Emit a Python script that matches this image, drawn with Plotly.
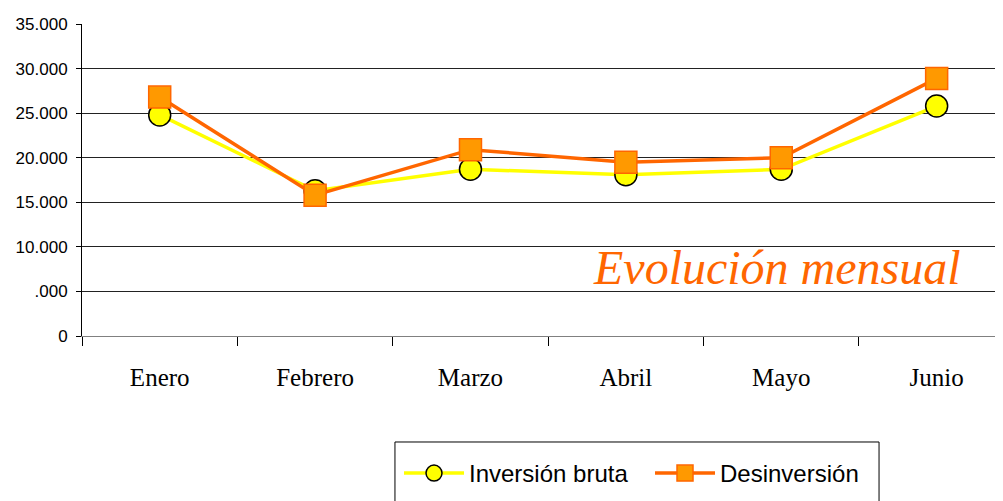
import plotly.graph_objects as go

meses = ["Enero", "Febrero", "Marzo", "Abril", "Mayo", "Junio"]
inversion_bruta = [24800, 16300, 18700, 18100, 18700, 25800]
desinversion = [26800, 15800, 20900, 19500, 20000, 28900]

y_ticks = [0, 5000, 10000, 15000, 20000, 25000, 30000, 35000]
y_labels = ["0", ".000", "10.000", "15.000", "20.000", "25.000", "30.000", "35.000"]

fig = go.Figure()

fig.add_trace(go.Scatter(
    x=meses, y=inversion_bruta, name="Inversión bruta",
    mode="lines+markers",
    line=dict(color="#FFFF00", width=3.5),
    marker=dict(symbol="circle", size=22, color="#FFFF00",
                line=dict(color="#000000", width=1.5)),
))
fig.add_trace(go.Scatter(
    x=meses, y=desinversion, name="Desinversión",
    mode="lines+markers",
    line=dict(color="#FF6600", width=3.5),
    marker=dict(symbol="square", size=22, color="#FF9900",
                line=dict(color="#FF6600", width=1.5)),
))

# titulo dentro del grafico
fig.add_annotation(
    text="Evolución mensual", xref="paper", yref="paper",
    x=0.755, y=0.218, xanchor="center", yanchor="middle", showarrow=False,
    font=dict(family="Liberation Serif", size=48, color="#FF6600", style="italic"),
)

# legend frame runs off the bottom edge, so draw it as a shape
fig.add_shape(
    type="rect", xref="paper", yref="paper",
    x0=0.3398, x1=0.8654, y0=-0.3397, y1=-0.58,
    line=dict(color="#000000", width=1), fillcolor="rgba(0,0,0,0)",
)

# the page body adds an 8px margin, so the figure is a bit smaller
fig.update_layout(
    width=995, height=493,
    margin=dict(l=74, r=0, t=16, b=165, autoexpand=False),
    plot_bgcolor="white", paper_bgcolor="white",
    showlegend=True,
    legend=dict(
        orientation="h", x=0.3442, y=-0.3686, xanchor="left", yanchor="top",
        borderwidth=0, bgcolor="rgba(0,0,0,0)",
        font=dict(family="Liberation Sans", size=24, color="#000000"),
        itemwidth=60, entrywidth=176,
    ),
)

fig.update_xaxes(
    type="category", range=[-0.5, 5.427], automargin=False,
    showline=True, linecolor="#808080", linewidth=1,
    showgrid=False, ticks="outside", tickson="boundaries",
    ticklen=9, tickcolor="#000000",
    ticklabelstandoff=19,
    tickfont=dict(family="Liberation Serif", size=25, color="#000000"),
)
fig.update_yaxes(
    range=[0, 35000], tickvals=y_ticks, ticktext=y_labels, automargin=False,
    showline=True, linecolor="#000000", linewidth=1,
    showgrid=True, gridcolor="#222222", gridwidth=1,
    zeroline=False,
    ticks="outside", ticklen=5, tickcolor="#000000",
    ticklabelstandoff=5,
    tickfont=dict(family="Liberation Sans", size=17, color="#000000"),
)

fig.write_html("out.html")
